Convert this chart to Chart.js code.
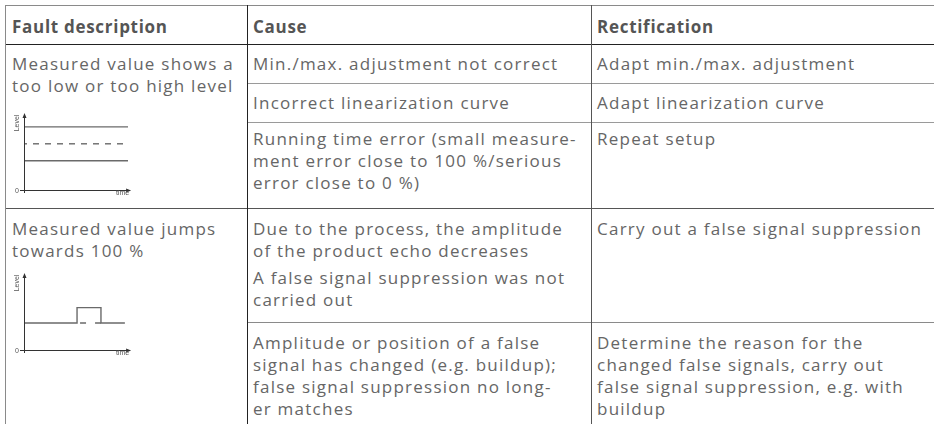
<!DOCTYPE html>
<html><head><meta charset="utf-8">
<script src="https://cdn.jsdelivr.net/npm/chart.js@4/dist/chart.umd.min.js"></script>
<style>
html,body{margin:0;padding:0;background:#fff;width:934px;height:424px;overflow:hidden;}
#wrap{position:relative;width:934px;height:424px;font-family:"Open Sans",sans-serif;color:#666;}
.t{position:absolute;white-space:pre;font-size:17px;line-height:22px;}
.h{font-weight:700;color:#555;font-size:17px;}
.ln{position:absolute;}
canvas{position:absolute;}
</style></head><body><div id="wrap"></div>
<script>
// ---- table text ----
const headers = ["Fault description", "Cause", "Rectification"];
const faults = [
  "Measured value shows a\ntoo low or too high level",
  "Measured value jumps\ntowards 100 %"
];
const causes = [
  "Min./max. adjustment not correct",
  "Incorrect linearization curve",
  "Running time error (small measure-\nment error close to 100 %/serious\nerror close to 0 %)",
  "Due to the process, the amplitude\nof the product echo decreases",
  "A false signal suppression was not\ncarried out",
  "Amplitude or position of a false\nsignal has changed (e.g. buildup);\nfalse signal suppression no long-\ner matches"
];
const rectifications = [
  "Adapt min./max. adjustment",
  "Adapt linearization curve",
  "Repeat setup",
  "Carry out a false signal suppression",
  "Determine the reason for the\nchanged false signals, carry out\nfalse signal suppression, e.g. with\nbuildup"
];
// ---- mini chart data (Level over time) ----
const axisLabels = { y: "Level", x: "time", origin: "0" };
const levelX = [0, 10];
const highLevel = [8.2, 8.2];
const trueLevel = [6.0, 6.0];
const lowLevel = [3.8, 3.8];
const jumpX = [0, 5.1, 5.1, 7.4, 7.4, 9.7];
const jumpLevel = [3.5, 3.5, 5.5, 5.5, 3.5, 3.5];
const hiddenX = [5.1, 7.4];
const hiddenLevel = [3.5, 3.5];

const wrap = document.getElementById('wrap');

// layout (positions only)
const hLines = [[5,5,934,'#8a8a8a'],[44,5,934,'#222'],[83,247,934,'#9a9a9a'],[122,247,934,'#9a9a9a'],[208,5,934,'#555'],[322,247,934,'#8a8a8a']];
const vLines = [[5,5,424,'#8a8a8a'],[247,5,424,'#222'],[591,5,424,'#555']];
hLines.forEach(([y,x1,x2,c])=>{const d=document.createElement('div');d.className='ln';Object.assign(d.style,{left:x1+'px',top:y+'px',width:(x2-x1)+'px',height:'1px',background:c});wrap.appendChild(d);});
vLines.forEach(([x,y1,y2,c])=>{const d=document.createElement('div');d.className='ln';Object.assign(d.style,{left:x+'px',top:y1+'px',height:(y2-y1)+'px',width:'1px',background:c});wrap.appendChild(d);});

// letter spacing to match the reference's wide typeface
const mc = document.createElement('canvas').getContext('2d');
mc.font = '17px "Open Sans"';
const refBody = rectifications[3];
const bodyLS = (324 - mc.measureText(refBody).width) / (refBody.length - 1);
mc.font = 'bold 17px "Open Sans"';
const hdLS = (155 - mc.measureText(headers[0]).width) / (headers[0].length - 1);

function addText(txt, x, y, cls, ls){
  const d=document.createElement('div');d.className='t '+(cls||'');d.textContent=txt;
  d.style.left=x+'px';d.style.top=y+'px';d.style.letterSpacing=ls+'px';wrap.appendChild(d);
}
const colX = [12, 253, 597];
headers.forEach((h,i)=>addText(h, colX[i], 16, 'h', hdLS));
const faultTop=[53,218];
faults.forEach((t,i)=>addText(t,colX[0],faultTop[i],'',bodyLS));
const causeTop=[53,92,128,218,267,332];
causes.forEach((t,i)=>addText(t,colX[1],causeTop[i],'',bodyLS));
const rectTop=[53,92,128,218,332];
rectifications.forEach((t,i)=>addText(t,colX[2],rectTop[i],'',bodyLS));

// ---- charts ----
const axesPlugin = {
  id:'axesArrows',
  afterDraw(chart){
    const {ctx, scales:{x, y}} = chart;
    const x0 = x.getPixelForValue(0), xE = x.getPixelForValue(10.3);
    const y0 = y.getPixelForValue(0), yE = y.getPixelForValue(10);
    ctx.save();
    ctx.strokeStyle='#333';ctx.fillStyle='#333';ctx.lineWidth=1;
    ctx.beginPath();
    ctx.moveTo(x0-4, Math.round(y0)+0.5); ctx.lineTo(xE-3, Math.round(y0)+0.5);
    ctx.moveTo(Math.round(x0)+0.5, y0+3); ctx.lineTo(Math.round(x0)+0.5, yE+3);
    ctx.stroke();
    ctx.beginPath();
    ctx.moveTo(xE, Math.round(y0)+0.5); ctx.lineTo(xE-5, Math.round(y0)-1.5); ctx.lineTo(xE-5, Math.round(y0)+2.5); ctx.closePath();
    ctx.moveTo(Math.round(x0)+0.5, yE); ctx.lineTo(Math.round(x0)-1.5, yE+5); ctx.lineTo(Math.round(x0)+2.5, yE+5); ctx.closePath();
    ctx.fill();
    ctx.fillStyle='#555';
    ctx.font='7px "Liberation Sans", Arial, sans-serif';
    ctx.textBaseline='middle';
    ctx.textAlign='right';
    ctx.fillText(axisLabels.origin, x0-5, y0+1);
    ctx.textAlign='right';
    ctx.fillText(axisLabels.x, xE-2, y0+3);
    ctx.translate(x0-7, yE+10);
    ctx.rotate(-Math.PI/2);
    ctx.textAlign='center';
    ctx.fillText(axisLabels.y, 0, 0);
    ctx.restore();
  }
};
function pts(xs, ys){ return xs.map((v,i)=>({x:v, y:ys[i]})); }
function makeChart(left, top, datasets){
  const c=document.createElement('canvas');
  c.width=135;c.height=95;c.style.left=left+'px';c.style.top=top+'px';c.style.width='135px';c.style.height='95px';
  wrap.appendChild(c);
  return new Chart(c, {
    type:'line',
    data:{datasets},
    options:{
      responsive:false, animation:false, devicePixelRatio:1,
      layout:{padding:{left:19,right:12,top:8,bottom:10}},
      plugins:{legend:{display:false},tooltip:{enabled:false}},
      elements:{point:{radius:0},line:{tension:0}},
      scales:{
        x:{type:'linear',min:0,max:10,display:false},
        y:{type:'linear',min:0,max:10,display:false}
      }
    },
    plugins:[axesPlugin]
  });
}
const lineStyle = {borderColor:'#6a6a6a', borderWidth:1.4, fill:false};
makeChart(5, 105, [
  Object.assign({data:pts(levelX, highLevel)}, lineStyle),
  Object.assign({data:pts(levelX, trueLevel), borderDash:[6,6], borderDashOffset:-9}, lineStyle),
  Object.assign({data:pts(levelX, lowLevel)}, lineStyle)
]);
makeChart(5, 265, [
  Object.assign({data:pts(jumpX, jumpLevel)}, lineStyle),
  Object.assign({data:pts(hiddenX, hiddenLevel), borderDash:[6,9], borderDashOffset:-3}, lineStyle)
]);
</script></body></html>
